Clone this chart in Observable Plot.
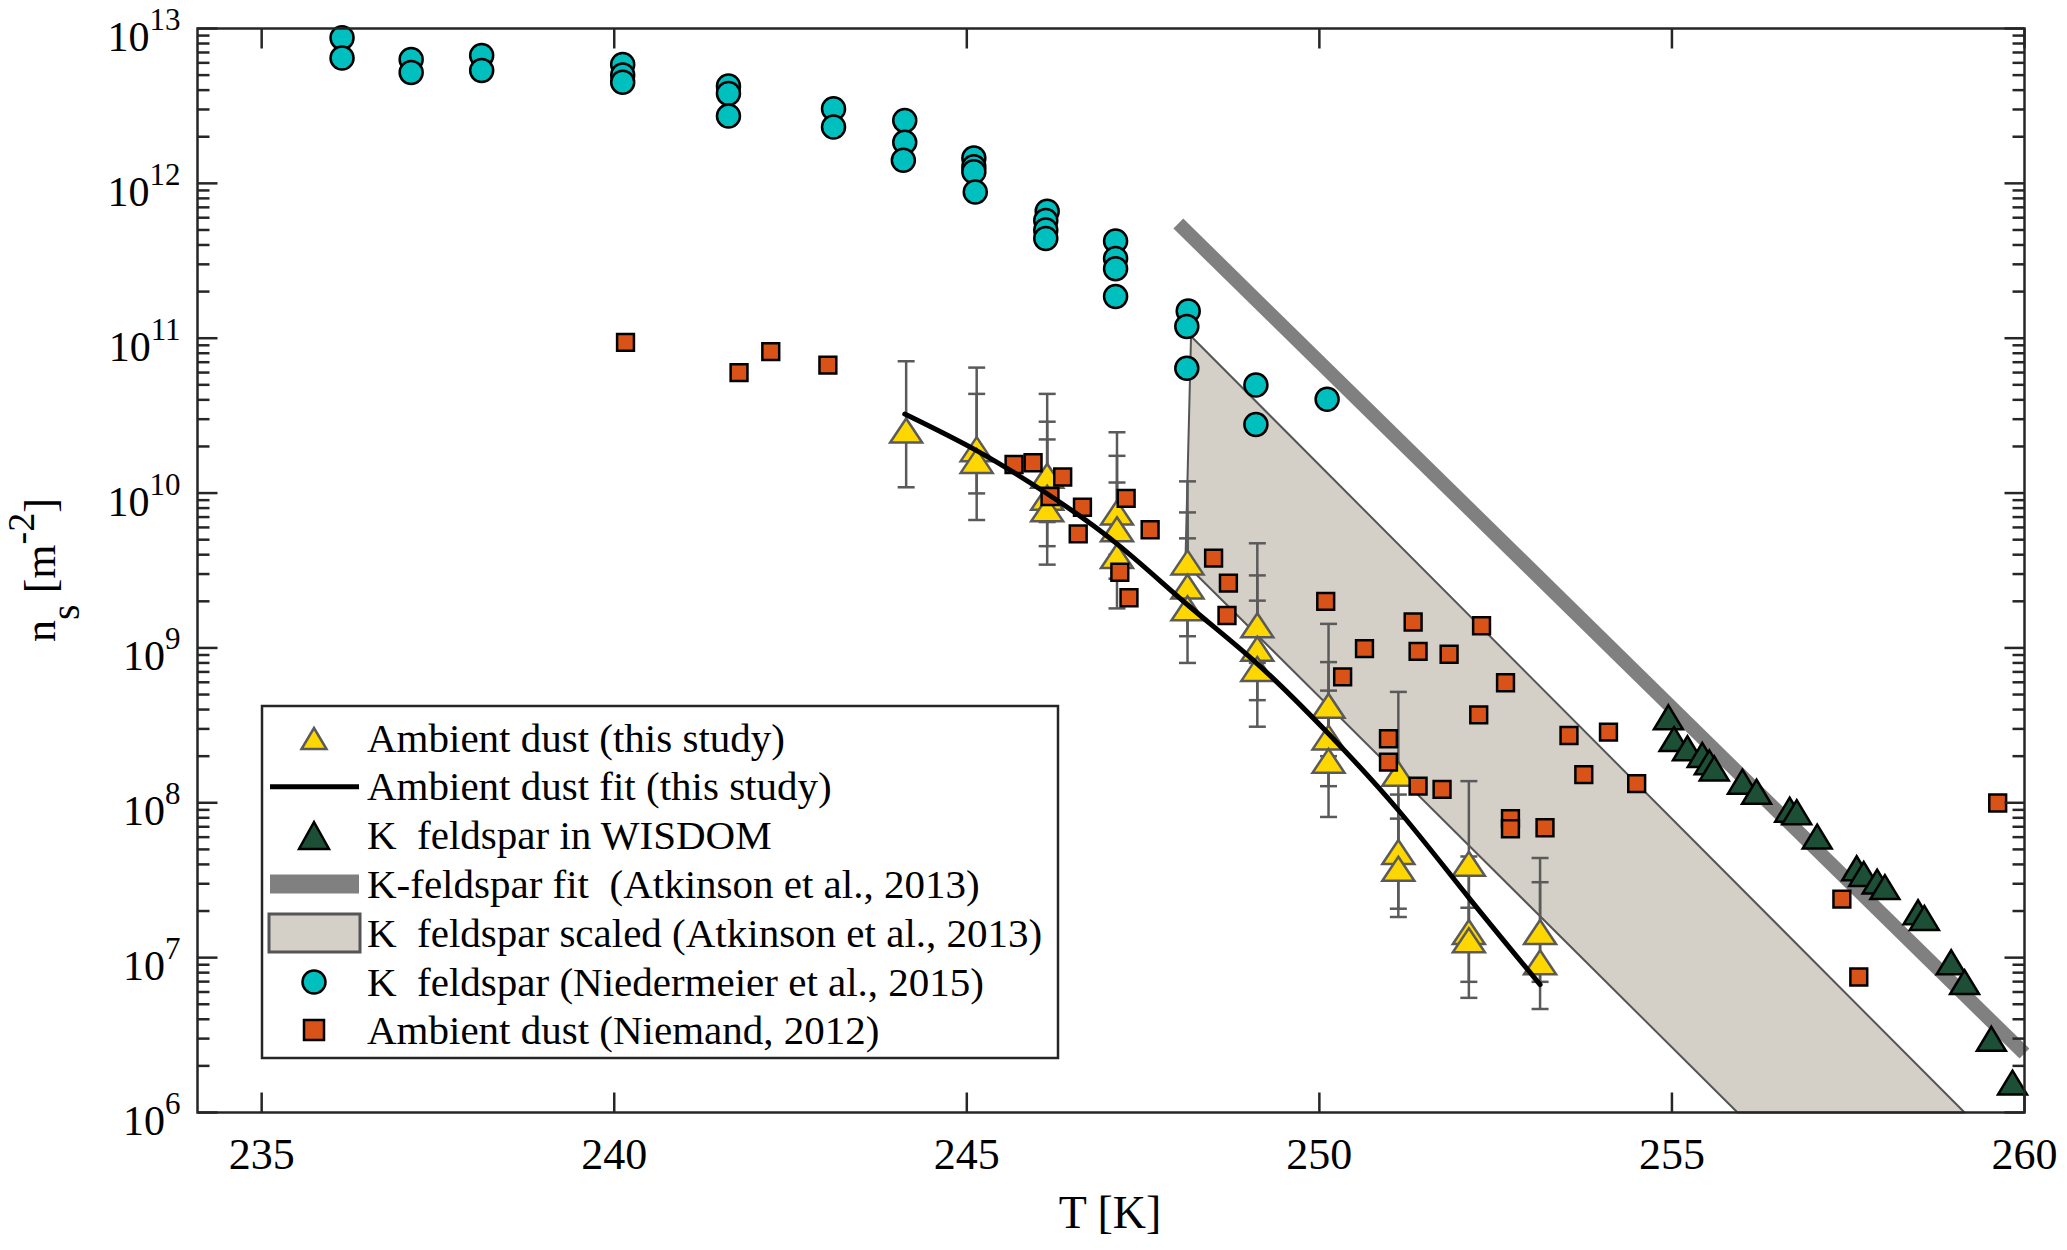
<!DOCTYPE html>
<html>
<head>
<meta charset="utf-8">
<script src="https://cdn.jsdelivr.net/npm/d3@7"></script>
<script src="https://cdn.jsdelivr.net/npm/@observablehq/plot@0.6"></script>
<style>
  body { margin: 0; background: #fff; }
  #chart svg { font-family: "Liberation Serif", "Times New Roman", serif; }
</style>
</head>
<body>
<div id="chart"></div>
<script>
// ns vs T, log y axis

// K feldspar (Niedermeier et al., 2015)
const niedT = [236.14, 236.14, 237.12, 237.12, 238.12, 238.12, 240.12, 240.12, 240.12,
  241.62, 241.62, 241.62, 243.11, 243.11, 244.12, 244.12, 244.10, 245.10, 245.10, 245.10, 245.12,
  246.14, 246.12, 246.12, 246.12, 247.11, 247.11, 247.11, 247.11, 248.14, 248.12, 248.12,
  249.10, 249.10, 250.11]
const niedNs = [8.7e12, 6.45e12, 6.3e12, 5.2e12, 6.7e12, 5.35e12, 5.85e12, 5.0e12, 4.5e12,
  4.25e12, 3.8e12, 2.72e12, 3.03e12, 2.31e12, 2.55e12, 1.84e12, 1.41e12, 1.46e12, 1.28e12, 1.19e12, 8.8e11,
  6.6e11, 5.76e11, 5.0e11, 4.4e11, 4.25e11, 3.27e11, 2.81e11, 1.86e11, 1.5e11, 1.19e11, 6.4e10,
  4.99e10, 2.77e10, 4.03e10]

// Ambient dust (Niemand, 2012)
const niemT = [240.16, 241.77, 242.22, 243.03, 245.67, 245.94, 246.18, 246.36, 246.58, 246.64,
  247.17, 247.26, 247.30, 247.60, 248.50, 248.69, 248.71, 250.09, 250.33, 250.64,
  250.98, 250.98, 251.33, 251.40, 251.40, 251.74, 251.84, 252.26, 252.30, 252.64,
  252.71, 252.71, 253.20, 253.54, 253.75, 254.10, 254.50, 257.41, 257.65, 259.62]
const niemNs = [9.4e10, 6.0e10, 8.2e10, 6.7e10, 1.53e10, 1.57e10, 9.5e9, 1.27e10, 5.45e9, 8.1e9,
  3.08e9, 9.25e9, 2.11e9, 5.8e9, 3.8e9, 1.62e9, 2.62e9, 2.0e9, 6.5e8, 9.9e8,
  2.59e8, 1.83e8, 1.47e9, 9.5e8, 1.28e8, 1.22e8, 9.1e8, 3.7e8, 1.39e9, 5.96e8,
  7.9e7, 6.8e7, 6.9e7, 2.72e8, 1.52e8, 2.86e8, 1.33e8, 2.39e7, 7.5e6, 9.97e7]

// K feldspar in WISDOM
const wisT = [254.95, 255.03, 255.22, 255.43, 255.53, 255.60, 256.00, 256.20, 256.67, 256.77,
  257.06, 257.62, 257.72, 257.91, 258.02, 258.49, 258.58, 258.96, 259.15, 259.53, 259.83]
const wisNs = [3.36e8, 2.43e8, 2.12e8, 1.92e8, 1.72e8, 1.57e8, 1.29e8, 1.11e8, 8.5e7, 8.2e7,
  5.7e7, 3.56e7, 3.27e7, 2.92e7, 2.69e7, 1.85e7, 1.70e7, 8.8e6, 6.55e6, 2.82e6, 1.47e6]

// Ambient dust (this study), with error bar ends
const dustT = [244.14, 245.14, 245.14, 246.14, 246.14, 246.14, 247.13, 247.13, 247.13,
  248.13, 248.13, 248.13, 249.12, 249.12, 249.12, 250.13, 250.13, 250.13,
  251.12, 251.12, 251.12, 252.12, 252.12, 252.12, 253.13, 253.13]
const dustNs = [2.39e10, 1.81e10, 1.52e10, 1.22e10, 8.8e9, 7.4e9, 7.05e9, 5.5e9, 3.7e9,
  3.36e9, 2.35e9, 1.70e9, 1.32e9, 9.3e8, 6.9e8, 3.99e8, 2.49e8, 1.76e8,
  1.45e8, 4.53e7, 3.53e7, 3.81e7, 1.38e7, 1.22e7, 1.38e7, 8.8e6]
const dustHi = [7.1e10, 6.46e10, 4.37e10, 4.37e10, 2.89e10, 2.22e10, 2.47e10, 1.74e10, 1.17e10,
  1.19e10, 7.5e9, 5.1e9, 4.74e9, 2.94e9, 2.02e9, 1.43e9, 8.1e8, 5.3e8,
  5.2e8, 1.13e8, 7.9e7, 1.38e8, 4.5e7, 2.1e7, 4.4e7, 3.07e7]
const dustLo = [1.09e10, 9.95e9, 6.7e9, 6.5e9, 4.54e9, 3.45e9, 4.0e9, 2.8e9, 1.8e9,
  1.7e9, 1.19e9, 8.0e8, 8.0e8, 4.6e8, 3.1e8, 2.0e8, 1.28e8, 8.1e7,
  4.2e7, 2.07e7, 1.83e7, 1.3e7, 6.98e6, 5.5e6, 6.98e6, 4.66e6]

// Ambient dust fit (this study)
const fitT = [244.12, 245.14, 246.14, 247.13, 248.13, 249.12, 250.13, 251.12, 252.11, 253.13]
const fitNs = [3.24e10, 1.88e10, 9.9e9, 4.7e9, 1.9e9, 7.9e8, 2.79e8, 8.95e7, 2.47e7, 6.7e6]

// K-feldspar fit (Atkinson et al., 2013)
const atkT = [248.0, 260.0]
const atkNs = [5.5e11, 2.4e6]

// K feldspar scaled (Atkinson et al., 2013): outline of the band
const bandT = [248.18, 259.15, 255.93, 248.10, 248.18]
const bandNs = [1.03e11, 1e6, 1e6, 3.5e9, 1.03e11]

const xTicks = [235, 240, 245, 250, 255, 260]
const yTicks = [1e6, 1e7, 1e8, 1e9, 1e10, 1e11, 1e12, 1e13]

const serif = '"Liberation Serif", "Times New Roman", serif'
const axisCol = "#262626"
const cyan = "#00BFBF", orange = "#D95319", yellow = "#FFD700", green = "#1D4F36"
const errGrey = "#5A5A5A", bandFill = "#D4D0C8"

const pts = (t, v) => t.map((d, i) => ({T: d, ns: v[i]}))
const nied = pts(niedT, niedNs)
const niem = pts(niemT, niemNs)
const wis = pts(wisT, wisNs)
const fit = pts(fitT, fitNs)
const atk = pts(atkT, atkNs)
const band = pts(bandT, bandNs)
const dust = dustT.map((d, i) => ({T: d, ns: dustNs[i], hi: dustHi[i], lo: dustLo[i]}))

const yMinor = d3.scaleLog().domain([1e6, 1e13]).ticks().filter(d => !yTicks.includes(d))

// matlab like triangle, centroid on the point
const tri = (w, h) => ({draw(ctx) {
  ctx.moveTo(0, -2 * h / 3); ctx.lineTo(w / 2, h / 3); ctx.lineTo(-w / 2, h / 3); ctx.closePath()
}})
const hLine = (a, b) => ({draw(ctx) { ctx.moveTo(a, 0); ctx.lineTo(b, 0) }})
const vLine = (a, b) => ({draw(ctx) { ctx.moveTo(0, a); ctx.lineTo(0, b) }})

const chart = Plot.plot({
  width: 2067,
  height: 1250,
  marginLeft: 197,
  marginRight: 43,
  marginTop: 28,
  marginBottom: 138,
  style: {fontFamily: serif, background: "white", color: "#000"},
  x: {domain: [234.09, 260]},
  y: {type: "log", domain: [1e6, 1e13]},
  marks: [
    Plot.line(band, {x: "T", y: "ns", fill: bandFill, stroke: "#555", strokeWidth: 2}),
    Plot.line(atk, {x: "T", y: "ns", stroke: "#808080", strokeWidth: 14, strokeLinecap: "butt"}),
    Plot.ruleX(dust, {x: "T", y1: "lo", y2: "hi", stroke: errGrey, strokeWidth: 2.5}),
    Plot.dot(dust, {x: "T", y: "hi", symbol: hLine(-8.5, 8.5), fill: "none", stroke: errGrey, strokeWidth: 2.5}),
    Plot.dot(dust, {x: "T", y: "lo", symbol: hLine(-8.5, 8.5), fill: "none", stroke: errGrey, strokeWidth: 2.5}),
    Plot.dot(dust, {x: "T", y: "ns", symbol: tri(32, 24), fill: yellow, stroke: errGrey, strokeWidth: 2.5}),
    Plot.dot(niem, {x: "T", y: "ns", symbol: "square", r: 9.5, fill: orange, stroke: "black", strokeWidth: 2.5}),
    Plot.line(fit, {x: "T", y: "ns", stroke: "black", strokeWidth: 5, curve: "natural"}),
    Plot.dot(wis, {x: "T", y: "ns", symbol: tri(29, 24), fill: green, stroke: "black", strokeWidth: 2.5}),
    Plot.dot(nied, {x: "T", y: "ns", r: 11.5, fill: cyan, stroke: "black", strokeWidth: 2.5}),

    Plot.frame({stroke: axisCol, strokeWidth: 2.5}),
    Plot.dot(yTicks, {y: d => d, frameAnchor: "left", symbol: hLine(0, 20), fill: "none", stroke: axisCol, strokeWidth: 2.5}),
    Plot.dot(yTicks, {y: d => d, frameAnchor: "right", symbol: hLine(-20, 0), fill: "none", stroke: axisCol, strokeWidth: 2.5}),
    Plot.dot(yMinor, {y: d => d, frameAnchor: "left", symbol: hLine(0, 12), fill: "none", stroke: axisCol, strokeWidth: 2.5}),
    Plot.dot(yMinor, {y: d => d, frameAnchor: "right", symbol: hLine(-12, 0), fill: "none", stroke: axisCol, strokeWidth: 2.5}),
    Plot.dot(xTicks, {x: d => d, frameAnchor: "bottom", symbol: vLine(-20, 0), fill: "none", stroke: axisCol, strokeWidth: 2.5}),
    Plot.dot(xTicks, {x: d => d, frameAnchor: "top", symbol: vLine(0, 20), fill: "none", stroke: axisCol, strokeWidth: 2.5}),
    Plot.axisX(xTicks, {anchor: "bottom", tickSize: 0, tickPadding: 25, fontSize: 44, label: null, fill: "#000"}),
    Plot.axisY(yTicks, {anchor: "left", tickSize: 0, tickPadding: 17, fontSize: 42, dy: 9, label: null, fill: "#000",
      tickFormat: d => "10^" + Math.round(Math.log10(d))}),
  ],
})

document.getElementById("chart").append(chart)

const svg = d3.select(chart)

// superscript exponents on the y tick labels
svg.selectAll('[aria-label="y-axis tick label"] text').each(function() {
  const [base, exp] = this.textContent.split("^")
  const t = d3.select(this).text("")
  t.append("tspan").text(base)
  t.append("tspan").attr("dy", -21).style("font-size", "31px").text(exp)
})

// axis titles
svg.append("text")
  .attr("x", 1110).attr("y", 1228)
  .attr("text-anchor", "middle")
  .style("font-size", "46px").style("font-family", serif)
  .text("T [K]")

const yl = svg.append("text")
  .attr("transform", "translate(55,570) rotate(-90)")
  .attr("text-anchor", "middle")
  .style("font-size", "44px").style("font-family", serif)
yl.append("tspan").text("n")
yl.append("tspan").attr("dy", 24).style("font-size", "40px").text("s")
yl.append("tspan").attr("dy", -24).style("white-space", "pre").text(" [m")
yl.append("tspan").attr("dy", -21).style("font-size", "38px").text("-2")
yl.append("tspan").attr("dy", 21).text("]")

// legend box
const leg = svg.append("g").attr("transform", "translate(262,706)")
leg.append("rect").attr("width", 796).attr("height", 352)
  .attr("fill", "white").attr("stroke", axisCol).attr("stroke-width", 2.5)

const rows = [32.5, 80.7, 129.5, 178, 227, 276, 324]
const labels = [
  "Ambient dust (this study)",
  "Ambient dust fit (this study)",
  "K  feldspar in WISDOM",
  "K-feldspar fit  (Atkinson et al., 2013)",
  "K  feldspar scaled (Atkinson et al., 2013)",
  "K  feldspar (Niedermeier et al., 2015)",
  "Ambient dust (Niemand, 2012)",
]
const triPath = (cx, cy, w, h) => `M${cx},${cy - h / 2}L${cx + w / 2},${cy + h / 2}L${cx - w / 2},${cy + h / 2}Z`

leg.append("path").attr("d", triPath(52, rows[0], 25, 21))
  .attr("fill", yellow).attr("stroke", errGrey).attr("stroke-width", 2.5)
leg.append("line").attr("x1", 8).attr("x2", 97).attr("y1", rows[1]).attr("y2", rows[1])
  .attr("stroke", "black").attr("stroke-width", 5)
leg.append("path").attr("d", triPath(52, rows[2], 30, 27))
  .attr("fill", green).attr("stroke", "black").attr("stroke-width", 2.5)
leg.append("line").attr("x1", 8).attr("x2", 97).attr("y1", rows[3]).attr("y2", rows[3])
  .attr("stroke", "#808080").attr("stroke-width", 19)
leg.append("rect").attr("x", 7).attr("y", rows[4] - 19).attr("width", 91).attr("height", 38)
  .attr("fill", bandFill).attr("stroke", "#555").attr("stroke-width", 3)
leg.append("circle").attr("cx", 52).attr("cy", rows[5]).attr("r", 11.5)
  .attr("fill", cyan).attr("stroke", "black").attr("stroke-width", 2.5)
leg.append("rect").attr("x", 42).attr("y", rows[6] - 10).attr("width", 20).attr("height", 20)
  .attr("fill", orange).attr("stroke", "black").attr("stroke-width", 2.5)

leg.selectAll("text.lab").data(labels).join("text")
  .attr("class", "lab")
  .attr("x", 105)
  .attr("y", (d, i) => rows[i] + 13.5)
  .attr("text-anchor", "start")
  .style("font-size", "41px").style("font-family", serif).style("white-space", "pre")
  .attr("fill", "black")
  .text(d => d)
</script>
</body>
</html>
